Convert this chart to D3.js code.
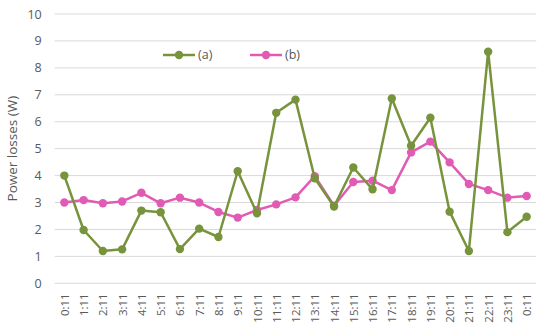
<!DOCTYPE html>
<html><head><meta charset="utf-8">
<script src="https://cdn.jsdelivr.net/npm/d3@7"></script>
<style>body{margin:0;background:#fff;} text{font-family:"Open Sans","Liberation Sans",sans-serif;fill:#595959;}</style>
</head><body><svg id="c" width="550" height="333"></svg>
<script>
const categories = ["0:11","1:11","2:11","3:11","4:11","5:11","6:11","7:11","8:11","9:11","10:11","11:11","12:11","13:11","14:11","15:11","16:11","17:11","18:11","19:11","20:11","21:11","22:11","23:11","0:11 "];
const seriesA = [4.0,1.98,1.2,1.26,2.7,2.64,1.27,2.03,1.72,4.16,2.6,6.33,6.82,3.9,2.85,4.3,3.49,6.86,5.11,6.15,2.66,1.2,8.6,1.9,2.47];
const seriesB = [3.0,3.09,2.97,3.04,3.36,2.97,3.18,3.0,2.65,2.44,2.72,2.93,3.19,3.98,2.88,3.76,3.81,3.46,4.86,5.26,4.49,3.69,3.46,3.18,3.24];
const yTicks = [0,1,2,3,4,5,6,7,8,9,10];
const seriesNames = ["(a)","(b)"];
const colors = ["#77933C","#E15BB4"];

const svg = d3.select("#c");
const L=54.7,R=536.3,T=14,B=283.3;
const x = d3.scalePoint().domain(categories).range([L,R]).padding(0.5);
const y = d3.scaleLinear().domain([0,10]).range([B,T]);

// grid
svg.append("g").selectAll("line").data(yTicks).join("line")
  .attr("x1",L).attr("x2",R).attr("y1",d=>y(d)).attr("y2",d=>y(d))
  .attr("stroke","#d9d9d9").attr("stroke-width",1);

// y axis labels
const ya = svg.append("g").attr("transform",`translate(${L},0)`)
  .call(d3.axisLeft(y).tickValues(yTicks).tickSize(0).tickPadding(13));
ya.select(".domain").remove();
ya.selectAll("text").style("font-size","12.5px").attr("fill","#595959");

// x axis labels
const xa = svg.append("g").attr("transform",`translate(0,${B})`)
  .call(d3.axisBottom(x).tickSize(0).tickPadding(0));
xa.select(".domain").remove();
xa.selectAll("text").style("font-size","11.5px").attr("fill","#595959")
  .attr("transform","rotate(-90)").attr("text-anchor","end")
  .attr("x",-10).attr("y",0).attr("dy","0.35em");

// y title
svg.append("text").attr("transform",`translate(17,${(T+B)/2}) rotate(-90)`)
  .attr("text-anchor","middle").style("font-size","13.5px").text("Power losses (W)");

const line = d3.line().x((d,i)=>x(categories[i])).y(d=>y(d));
[seriesB, seriesA].forEach((s,k)=>{
  const idx = k===0?1:0;
  const g = svg.append("g");
  g.append("path").datum(s).attr("d",line).attr("fill","none")
    .attr("stroke",colors[idx]).attr("stroke-width",2.5).attr("stroke-linejoin","round");
  g.selectAll("circle").data(s).join("circle")
    .attr("cx",(d,i)=>x(categories[i])).attr("cy",d=>y(d)).attr("r",4.2).attr("fill",colors[idx]);
});

// legend
const leg = [{x:163},{x:250}];
seriesNames.forEach((n,i)=>{
  const g = svg.append("g").attr("transform",`translate(${leg[i].x},55)`);
  g.append("line").attr("x1",0).attr("x2",32).attr("stroke",colors[i]).attr("stroke-width",2.5);
  g.append("circle").attr("cx",16).attr("r",4.2).attr("fill",colors[i]);
  g.append("text").attr("x",35).attr("dy","0.35em").style("font-size","12.5px").text(n);
});
</script></body></html>
